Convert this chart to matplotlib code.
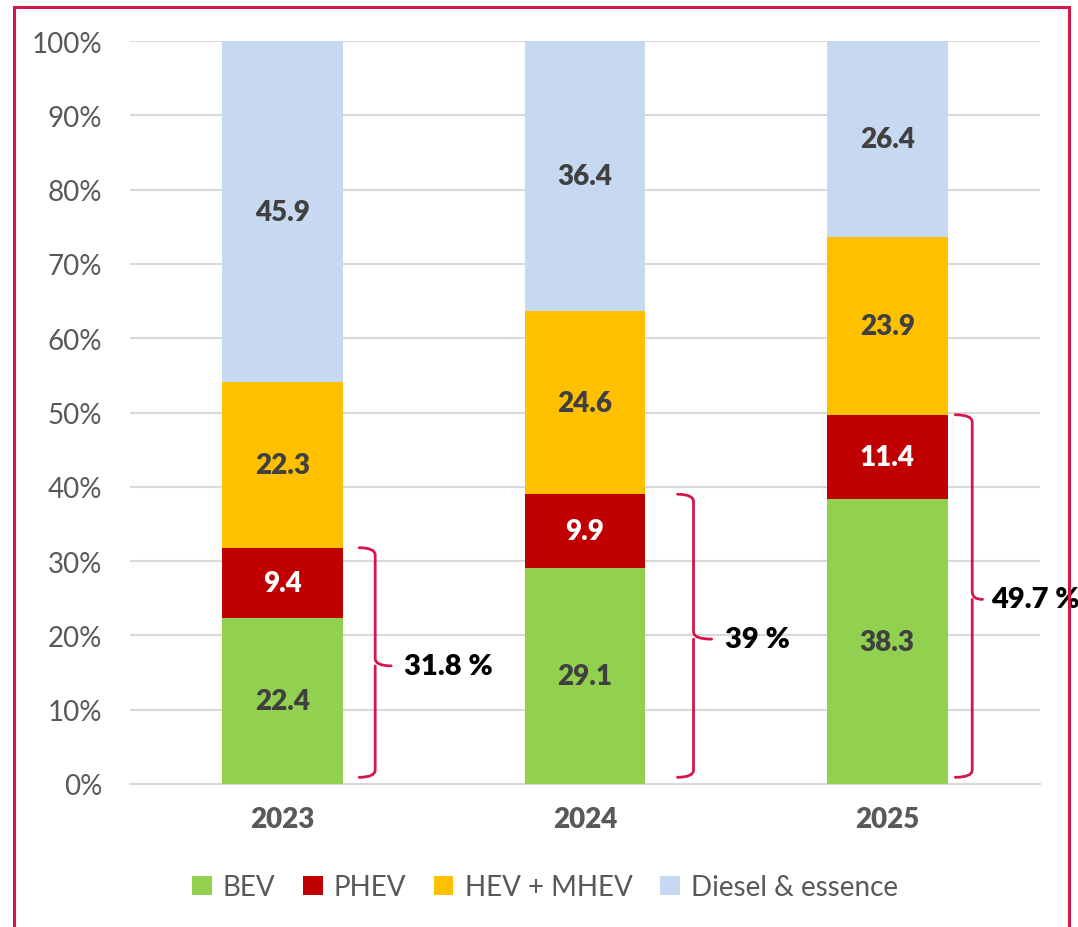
import numpy as np
import matplotlib
matplotlib.use("Agg")
import matplotlib.pyplot as plt
from matplotlib.patches import Rectangle
from matplotlib.path import Path
from matplotlib.patches import PathPatch
from matplotlib.ticker import PercentFormatter

plt.rcParams['font.family'] = ['Lato', 'DejaVu Sans']

# données (parts de marché, %)
years = ['2023', '2024', '2025']
series_names = ['BEV', 'PHEV', 'HEV + MHEV', 'Diesel & essence']
bev = [22.4, 29.1, 38.3]
phev = [9.4, 9.9, 11.4]
hev = [22.3, 24.6, 23.9]
thermique = [45.9, 36.4, 26.4]
bracket_labels = ['31.8 %', '39 %', '49.7 %']

colors = ['#92D050', '#C00000', '#FFC000', '#C6D9F0']
label_colors = ['#404040', 'white', '#404040', '#404040']
crimson = '#D4164A'

# position des accolades (x relatif au centre de la barre): crochet, trait, pointe, texte
brace_x = [(0.253, 0.306, 0.359, 0.402),
           (0.306, 0.359, 0.419, 0.462),
           (0.225, 0.281, 0.315, 0.344)]

fig = plt.figure(figsize=(10.78, 9.28), dpi=100)
ax = fig.add_axes([0.1206, 0.1541, 0.8441, 0.8006])

x = np.arange(len(years))
bottom = np.zeros(len(years))
width = 0.4
for vals, name, col, lcol in zip([bev, phev, hev, thermique], series_names, colors, label_colors):
    vals = np.array(vals)
    ax.bar(x, vals, width, bottom=bottom, color=col, label=name, zorder=3)
    for xi, b, v in zip(x, bottom, vals):
        ax.text(xi, b + v / 2, f'{v:.1f}', ha='center', va='center',
                fontsize=20, fontweight='heavy', color=lcol, zorder=4)
    bottom += vals

# accolades BEV + PHEV
for i, lab in enumerate(bracket_labels):
    top = bev[i] + phev[i]
    bot = 0.9
    mid = top / 2
    h0, v0, tip, tx = [i + d for d in brace_x[i]]
    r = 1.0  # arrondi en %
    verts = [(h0, top), (v0, top), (v0, top - r),
             (v0, mid + r), (v0, mid), (tip, mid),
             (v0, mid), (v0, mid - r),
             (v0, bot + r), (v0, bot), (h0, bot)]
    codes = [Path.MOVETO, Path.CURVE3, Path.CURVE3,
             Path.LINETO, Path.CURVE3, Path.CURVE3,
             Path.MOVETO, Path.LINETO,
             Path.LINETO, Path.CURVE3, Path.CURVE3]
    ax.add_patch(PathPatch(Path(verts, codes), fill=False, edgecolor=crimson,
                           lw=2.0, zorder=5, clip_on=False, capstyle='round'))
    ax.text(tx, mid, lab, ha='left', va='center', fontsize=21,
            fontweight='heavy', color='black', clip_on=False)

ax.set_xlim(-0.505, 2.505)
ax.set_ylim(0, 100)
ax.set_yticks(np.arange(0, 101, 10))
ax.yaxis.set_major_formatter(PercentFormatter(decimals=0))
ax.set_xticks(x)
ax.set_xticklabels(years, fontweight='heavy')
ax.tick_params(axis='both', length=0, labelsize=20, colors='#595959')
ax.tick_params(axis='y', pad=20)
ax.tick_params(axis='x', pad=16)
ax.grid(axis='y', color='#D9D9D9', lw=1.5, zorder=0)
for s in ['top', 'right', 'left']:
    ax.spines[s].set_visible(False)
ax.spines['bottom'].set_color('#D9D9D9')
ax.spines['bottom'].set_linewidth(1.5)

leg = fig.legend(loc='center', bbox_to_anchor=(545 / 1078, 1 - 888 / 928), ncol=4,
                 frameon=False, fontsize=20, handlelength=0.7, handleheight=0.7,
                 handletextpad=0.4, columnspacing=1.0)
for t in leg.get_texts():
    t.set_color('#595959')

# cadre
fig.patches.append(Rectangle((14 / 1078, -0.05), (1069 - 14) / 1078, 1.05 - 8 / 928,
                             transform=fig.transFigure, fill=False,
                             edgecolor=crimson, lw=2.2, zorder=10))

fig.savefig('out.png', dpi=100)
